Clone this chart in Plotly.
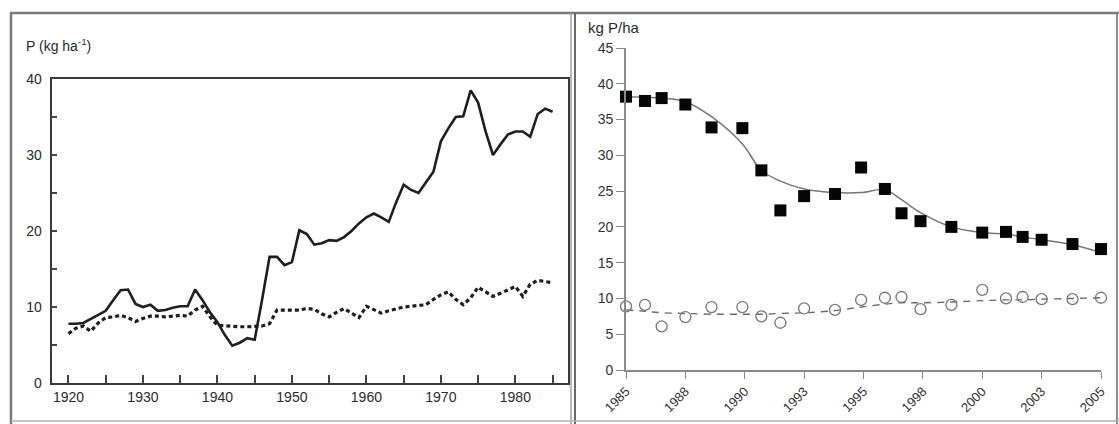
import plotly.graph_objects as go

W, H = 1119, 424

# ---- left panel: annual series 1920-1985 (kg P per ha) ----
years_hist = list(range(1920, 1986))
p_solid = [7.8, 7.8, 7.9, 8.4, 8.9, 9.5, 10.9, 12.2, 12.3, 10.4, 10.0, 10.3, 9.5, 9.6,
           9.9, 10.1, 10.1, 12.3, 10.9, 9.3, 8.0, 6.3, 4.9, 5.3, 5.9, 5.7, 11.0, 16.6,
           16.6, 15.5, 15.9, 20.1, 19.6, 18.2, 18.4, 18.8, 18.7, 19.2, 20.0, 21.0, 21.8,
           22.3, 21.8, 21.2, 23.8, 26.1, 25.4, 25.0, 26.4, 27.8, 31.8, 33.5, 35.0, 35.1,
           38.5, 36.9, 33.1, 30.0, 31.4, 32.7, 33.1, 33.1, 32.4, 35.4, 36.1, 35.7]
p_dashed = [6.5, 7.2, 7.5, 6.8, 7.9, 8.6, 8.7, 8.9, 8.6, 8.1, 8.5, 8.8, 8.8, 8.7,
            8.8, 8.9, 8.8, 9.6, 10.1, 8.7, 7.6, 7.5, 7.4, 7.4, 7.4, 7.4, 7.5, 7.8,
            9.6, 9.6, 9.6, 9.6, 9.8, 9.7, 9.1, 8.7, 9.3, 9.8, 9.2, 8.6, 10.1, 9.6,
            9.2, 9.5, 9.8, 10.0, 10.1, 10.2, 10.3, 11.0, 11.6, 12.0, 11.0, 10.3, 11.2,
            12.6, 12.0, 11.4, 11.8, 12.3, 12.7, 11.4, 13.0, 13.5, 13.4, 13.2]
left_tickvals = [1920, 1930, 1940, 1950, 1960, 1970, 1980]
left_ticktext = ["1920", "1930", "1940", "1950", "1960", "1970", "1980"]

# ---- right panel: observations 1985-2005 (kg P/ha) ----
t_obs = [1985.0, 1985.8, 1986.5, 1987.5, 1988.6, 1989.9, 1990.7, 1991.5, 1992.5, 1993.8,
         1994.9, 1995.9, 1996.6, 1997.4, 1998.7, 2000.0, 2001.0, 2001.7, 2002.5, 2003.8,
         2005.0]
p_high = [38.2, 37.6, 38.0, 37.1, 33.9, 33.8, 27.9, 22.3, 24.3, 24.6, 28.3, 25.3, 21.9,
          20.8, 20.0, 19.2, 19.3, 18.6, 18.2, 17.6, 16.9]
p_high_trend = [38.2, 38.1, 38.0, 37.5, 35.4, 31.6, 27.9, 26.4, 25.3, 24.8, 24.8, 25.2,
                23.8, 22.0, 20.0, 19.2, 19.0, 18.6, 18.2, 17.5, 16.4]
p_low = [8.9, 9.1, 6.1, 7.4, 8.8, 8.8, 7.5, 6.6, 8.6, 8.4, 9.8, 10.1, 10.2, 8.5, 9.1,
         11.2, 10.0, 10.2, 9.9, 9.9, 10.1]
p_low_trend = [8.4, 8.2, 8.0, 7.9, 7.8, 7.8, 7.8, 7.9, 8.0, 8.3, 8.8, 9.2, 9.4, 9.4,
               9.5, 9.7, 9.8, 9.8, 9.9, 10.0, 10.1]
right_tickvals = [1985, 1987.5, 1990, 1992.5, 1995, 1997.5, 2000, 2002.5, 2005]
right_ticktext = ["1985", "1988", "1990", "1993", "1995", "1998", "2000", "2003", "2005"]


def px_x(x):
    return x / W


def px_y(y):
    return 1 - y / H


FONT = "Liberation Sans, Arial, sans-serif"
fig = go.Figure()

# left panel lines
fig.add_trace(go.Scatter(x=years_hist, y=p_solid, mode="lines",
                         line=dict(color="#1e1e1e", width=2.6),
                         xaxis="x", yaxis="y", showlegend=False))
fig.add_trace(go.Scatter(x=years_hist, y=p_dashed, mode="lines",
                         line=dict(color="#1e1e1e", width=3.2, dash="4px,3px"),
                         xaxis="x", yaxis="y", showlegend=False))

# right panel trends and observations
fig.add_trace(go.Scatter(x=t_obs, y=p_low_trend, mode="lines",
                         line=dict(color="#6a6a6a", width=1.4, dash="7px,6px", shape="spline"),
                         xaxis="x2", yaxis="y2", showlegend=False))
fig.add_trace(go.Scatter(x=t_obs, y=p_high_trend, mode="lines",
                         line=dict(color="#777777", width=1.5, shape="spline", smoothing=1),
                         xaxis="x2", yaxis="y2", showlegend=False))
fig.add_trace(go.Scatter(x=t_obs, y=p_low, mode="markers",
                         marker=dict(symbol="circle-open", size=11, color="#777777",
                                     line=dict(width=1.3, color="#777777")),
                         cliponaxis=False, xaxis="x2", yaxis="y2", showlegend=False))
fig.add_trace(go.Scatter(x=t_obs, y=p_high, mode="markers",
                         marker=dict(symbol="square", size=12, color="#050505"),
                         cliponaxis=False, xaxis="x2", yaxis="y2", showlegend=False))

tick_font = dict(family=FONT, size=14, color="#2a2a2a")

fig.update_layout(
    width=W, height=H,
    margin=dict(l=0, r=0, t=0, b=0, pad=0),
    paper_bgcolor="white", plot_bgcolor="white",
    xaxis=dict(domain=[px_x(51.7), px_x(567.5)], range=[1917.75, 1987.0],
               tickvals=left_tickvals, ticktext=left_ticktext,
               ticks="inside", ticklen=8, tickwidth=1.5, tickcolor="#444",
               minor=dict(dtick=5, tick0=1920, ticks="inside", ticklen=8,
                          tickwidth=1.5, tickcolor="#444"),
               showline=True, linecolor="#3a3a3a", linewidth=2, mirror=True,
               showgrid=False, zeroline=False, tickfont=tick_font,
               automargin=False, anchor="y"),
    yaxis=dict(domain=[px_y(383), px_y(79)], range=[0, 40],
               tickvals=[0, 10, 20, 30, 40],
               ticks="inside", ticklen=5, tickwidth=1.5, tickcolor="#444",
               minor=dict(dtick=5, ticks="inside", ticklen=5, tickwidth=1.5,
                          tickcolor="#444"),
               showline=True, linecolor="#3a3a3a", linewidth=2, mirror=True,
               showgrid=False, zeroline=False, tickfont=tick_font,
               ticklabelstandoff=5, automargin=False, anchor="x"),
    xaxis2=dict(domain=[px_x(626), px_x(1101)], range=[1985, 2005],
                tickvals=right_tickvals, ticktext=right_ticktext, tickangle=-45,
                ticks="outside", ticklen=7, tickwidth=1.3, tickcolor="#888",
                showline=True, linecolor="#8a8a8a", linewidth=1.6,
                showgrid=False, zeroline=False,
                tickfont=dict(family=FONT, size=13, color="#333"),
                automargin=False, anchor="y2"),
    yaxis2=dict(domain=[px_y(370), px_y(48)], range=[0, 45], dtick=5,
                ticks="outside", ticklen=8, tickwidth=1.3, tickcolor="#888",
                showline=True, linecolor="#8a8a8a", linewidth=1.6,
                showgrid=False, zeroline=False,
                tickfont=dict(family=FONT, size=14, color="#333"),
                automargin=False, anchor="x2"),
)

# axis titles
fig.add_annotation(x=px_x(24), y=px_y(45), xref="paper", yref="paper",
                   text="P (kg ha<sup>-1</sup>)", showarrow=False,
                   xanchor="left", yanchor="middle",
                   font=dict(family=FONT, size=14, color="#2a2a2a"))
fig.add_annotation(x=px_x(586), y=px_y(28), xref="paper", yref="paper",
                   text="kg P/ha", showarrow=False,
                   xanchor="left", yanchor="middle",
                   font=dict(family=FONT, size=15, color="#2a2a2a"))

# panel frames
frame = [
    (10, 13, 1119, 13, "#7a7a7a", 2.5),
    (11, 13, 11, 424, "#7a7a7a", 2.5),
    (1117, 13, 1117, 424, "#8a8a8a", 2),
    (571, 13, 571, 424, "#a0a0a0", 1.5),
    (575, 13, 575, 424, "#6a6a6a", 2),
    (11, 421, 1119, 421, "#b0b0b0", 1.5),
]
for x0, y0, x1, y1, col, w in frame:
    fig.add_shape(type="line", xref="paper", yref="paper",
                  x0=px_x(x0), y0=px_y(y0), x1=px_x(x1), y1=px_y(y1),
                  line=dict(color=col, width=w))

fig.write_html("out.html")
